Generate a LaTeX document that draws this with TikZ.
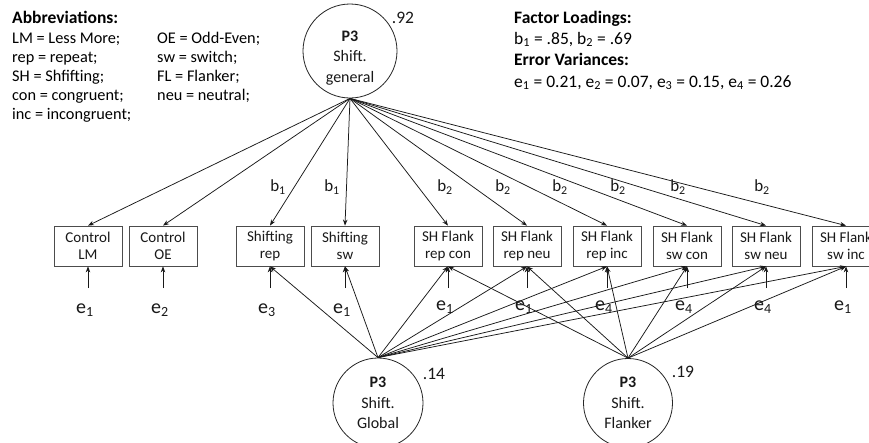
\documentclass[tikz,border=0pt]{standalone}
\usepackage{fontspec}
\setmainfont{Carlito}
\usetikzlibrary{arrows.meta}
\newcommand{\fsz}[2]{\fontsize{#1}{#2}\selectfont}
\begin{document}
\begin{tikzpicture}[x=1pt,y=-1pt,
  obs/.style={draw=black!70, line width=0.8pt, minimum width=68pt, minimum height=40pt,
    inner sep=0pt, align=center, font=\fsz{15}{17}, text=black!90},
  latent/.style={draw=black!85, line width=0.8pt, circle, minimum size=#1, inner sep=0pt},
  latent/.default=94pt,
  lattext/.style={align=center, font=\fsz{16}{20.5}, text=black!90, inner sep=0pt},
  conn/.style={draw=black!90, line width=0.75pt, -{Stealth[length=6pt,width=4.5pt]}},
  elab/.style={font=\fsz{20}{22}, text=black!90, inner sep=0pt},
  blab/.style={font=\fsz{17}{18}, text=black!90, inner sep=0pt},
  varlab/.style={font=\fsz{17.5}{18}, text=black!90, inner sep=0pt},
  note/.style={anchor=base west, inner sep=0pt, text=black},
]
\useasboundingbox (0,0) rectangle (869,442);
\fill[white] (0,0) rectangle (869,442);

% abbreviations legend
\node[note, font=\fsz{17.5}{20}\bfseries] (abh) at (12,23) {Abbreviations:};
\node[note, font=\fsz{16.3}{19}] (ab1) at (12,43) {LM = Less More;};
\node[note, font=\fsz{16.3}{19}] (ab2) at (12,62) {rep = repeat;};
\node[note, font=\fsz{16.3}{19}] (ab3) at (12,81) {SH = Shfifting;};
\node[note, font=\fsz{16.3}{19}] (ab4) at (12,100) {con = congruent;};
\node[note, font=\fsz{16.3}{19}] (ab5) at (12,119) {inc = incongruent;};
\node[note, font=\fsz{16.3}{19}] (ab6) at (157,43) {OE = Odd-Even;};
\node[note, font=\fsz{16.3}{19}] (ab7) at (157,62) {sw = switch;};
\node[note, font=\fsz{16.3}{19}] (ab8) at (157,81) {FL = Flanker;};
\node[note, font=\fsz{16.3}{19}] (ab9) at (157,100) {neu = neutral;};

% parameter estimates
\node[note, font=\fsz{17.5}{20}\bfseries] (flh) at (514,23) {Factor Loadings:};
\node[note, font=\fsz{17.5}{20}] (flv) at (514,44) {b\textsubscript{1} = .85, b\textsubscript{2} = .69};
\node[note, font=\fsz{17.5}{20}\bfseries] (evh) at (514,65) {Error Variances:};
\node[note, font=\fsz{17.5}{20}] (evv) at (514,87) {e\textsubscript{1} = 0.21, e\textsubscript{2} = 0.07, e\textsubscript{3} = 0.15, e\textsubscript{4} = 0.26};

% latent factors
\node[latent] (T) at (350,51) {};
\node[lattext] (Tt) at (350,58) {{\bfseries P3}\\Shift.\\general};
\node[varlab] (Tv) at (403,18) {.92};

\node[latent=90pt] (G) at (378,403) {};
\node[lattext] (Gt) at (378,403) {{\bfseries P3}\\Shift.\\Global};
\node[varlab] (Gv) at (434,374) {.14};

\node[latent=89pt] (F) at (628,403) {};
\node[lattext] (Ft) at (628,403) {{\bfseries P3}\\Shift.\\Flanker};
\node[varlab] (Fv) at (683,372) {.19};

% observed indicators
\node[obs] (LM) at (88,246) {Control\\LM};
\node[obs] (OE) at (163,246) {Control\\OE};
\node[obs] (SR) at (270,246) {Shifting\\rep};
\node[obs] (SS) at (345,246) {Shifting\\sw};
\node[obs] (RC) at (448,246) {SH Flank\\rep con};
\node[obs] (RN) at (527,246) {SH Flank\\rep neu};
\node[obs] (RI) at (607,246) {SH Flank\\rep inc};
\node[obs] (WC) at (687,246) {SH Flank\\sw con};
\node[obs] (WN) at (766,246) {SH Flank\\sw neu};
\node[obs] (WI) at (846,246) {SH Flank\\sw inc};

% general factor loadings
\foreach \b in {LM,OE,SR,SS,RC,RN,RI,WC,WN,WI}
  \draw[conn] (T.south) -- (\b.north);

% specific factor loadings
\foreach \b in {SR,SS,RC,RN,RI,WC,WN,WI}
  \draw[conn] (G.north) -- (\b.south);
\foreach \b in {RC,RN,RI,WC,WN,WI}
  \draw[conn] (F.north) -- (\b.south);

% loading labels
\node[blab] (bl1) at (278,187) {b\textsubscript{1}};
\node[blab] (bl2) at (332,187) {b\textsubscript{1}};
\node[blab] (bl3) at (445,187) {b\textsubscript{2}};
\node[blab] (bl4) at (503,187) {b\textsubscript{2}};
\node[blab] (bl5) at (560,187) {b\textsubscript{2}};
\node[blab] (bl6) at (618,187) {b\textsubscript{2}};
\node[blab] (bl7) at (678,187) {b\textsubscript{2}};
\node[blab] (bl8) at (762,187) {b\textsubscript{2}};

% residual terms
\foreach \b/\x/\y/\k in {LM/88/310/1, OE/163/310/2, SR/270/310/3, SS/345/310/1,
    RC/448/307/1, RN/527/307/1, RI/607/307/4, WC/687/307/4, WN/766/307/4, WI/846/307/1} {
  \coordinate (e\b) at (\x,288);
  \node[elab] (el\b) at (\x-3,\y) {e\textsubscript{\k}};
  \draw[conn] (e\b) -- (\b.south);
}
\end{tikzpicture}
\end{document}
